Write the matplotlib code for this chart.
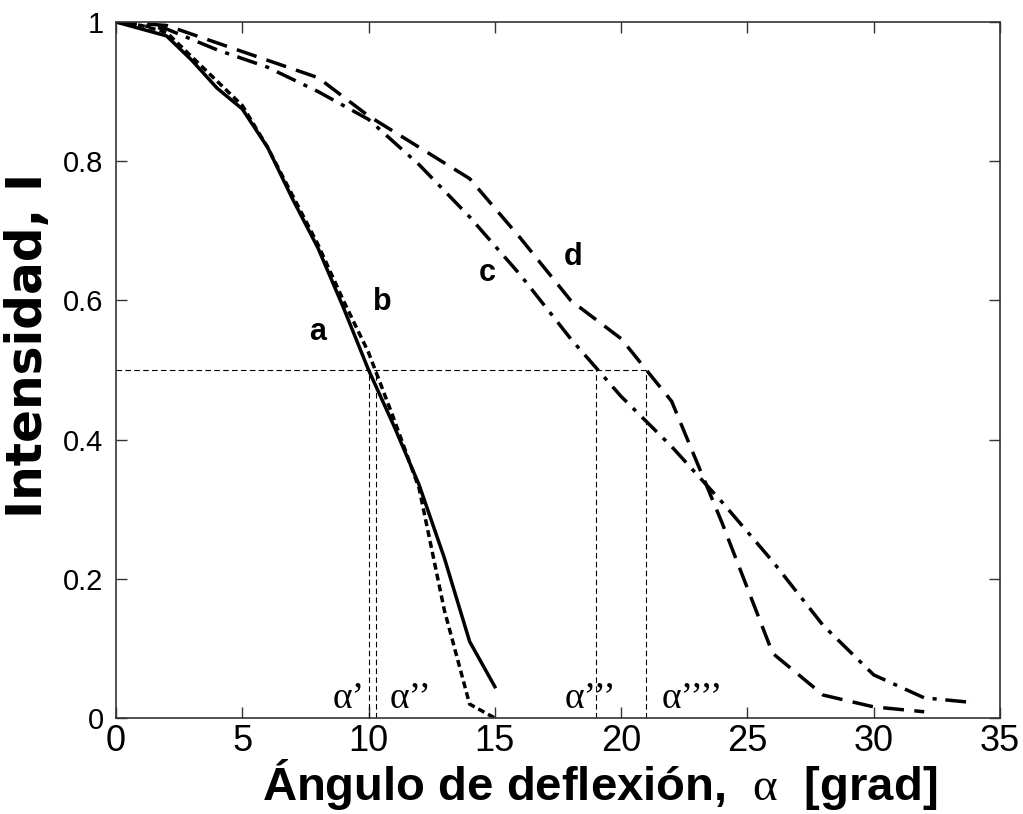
import matplotlib
matplotlib.use("Agg")
import matplotlib.pyplot as plt

plt.rcParams['font.family'] = ['Liberation Sans', 'DejaVu Sans']
plt.rcParams['mathtext.fontset'] = 'custom'
plt.rcParams['mathtext.rm'] = 'Liberation Serif'

# Deflection angle (deg) and normalised intensity for the four curves
angle_ab = [0, 1, 2, 3, 4, 5, 6, 7, 8, 9, 10, 11, 12, 13, 14, 15]
int_a = [1.0, 0.99, 0.98, 0.945, 0.905, 0.875, 0.82, 0.745, 0.675, 0.59,
         0.5, 0.42, 0.335, 0.23, 0.11, 0.045]
int_b = [1.0, 0.995, 0.985, 0.95, 0.915, 0.88, 0.82, 0.75, 0.68, 0.6,
         0.525, 0.43, 0.33, 0.155, 0.02, 0.0]

angle_c = [0, 2, 4, 6, 8, 10, 12, 14, 16, 18, 20, 22, 24, 26, 28, 30, 32, 34]
int_c = [1.0, 0.99, 0.96, 0.935, 0.9, 0.86, 0.795, 0.72, 0.637, 0.545,
         0.462, 0.39, 0.31, 0.225, 0.133, 0.062, 0.029, 0.022]

angle_d = [0, 2, 4, 6, 8, 10, 12, 14, 16, 18, 20, 22, 24, 26, 28, 30, 32]
int_d = [1.0, 0.995, 0.97, 0.945, 0.92, 0.865, 0.82, 0.775, 0.69, 0.6,
         0.545, 0.455, 0.28, 0.093, 0.033, 0.016, 0.009]

# Half-intensity angles alpha', alpha'', alpha''', alpha''''
half_level = 0.5
alpha_half = [10.0, 10.3, 19.0, 21.0]
alpha_names = ["α’", "α’’", "α’’’", "α’’’’"]
alpha_label_x = [9.22, 11.68, 18.8, 22.8]

curve_names = ["a", "b", "c", "d"]
curve_label_pos = [(8.0, 0.554), (10.53, 0.597), (14.69, 0.64), (18.09, 0.663)]

x_ticks = [0, 5, 10, 15, 20, 25, 30, 35]
y_ticks = [0, 0.2, 0.4, 0.6, 0.8, 1.0]
y_tick_labels = ["0", "0.2", "0.4", "0.6", "0.8", "1"]

fig = plt.figure(figsize=(10.23, 8.14), dpi=100)
ax = fig.add_axes([0.1134, 0.1179, 0.8641, 0.8551])

lw = 2.5
ax.plot(angle_ab, int_a, color='black', lw=lw, linestyle='-')
ax.plot(angle_ab, int_b, color='black', lw=lw, linestyle=(0, (2, 1.2)))
ax.plot(angle_c, int_c, color='black', lw=lw, linestyle=(0, (6, 2.5, 1.2, 2.5)))
ax.plot(angle_d, int_d, color='black', lw=lw, linestyle=(0, (6, 3)))

# Guide lines at half intensity
ref_style = dict(color='black', lw=0.8, linestyle=(0, (5, 3)))
ax.plot([0, max(alpha_half)], [half_level, half_level], **ref_style)
for xv in alpha_half:
    ax.plot([xv, xv], [0, half_level], **ref_style)

for name, xv in zip(alpha_names, alpha_label_x):
    ax.text(xv, 0.003, name, ha='center', va='bottom', fontsize=27,
            fontfamily=['Liberation Serif', 'DejaVu Serif'])

for name, (xv, yv) in zip(curve_names, curve_label_pos):
    ax.text(xv, yv, name, ha='center', va='center', fontsize=22,
            fontweight='bold')

ax.set_xlim(0, 35)
ax.set_ylim(0, 1)
ax.set_xticks(x_ticks)
ax.set_xticklabels([str(t) for t in x_ticks], fontsize=26)
ax.set_yticks(y_ticks)
ax.set_yticklabels(y_tick_labels, fontsize=21)
ax.tick_params(direction='in', length=8, width=1, top=True, right=True,
               colors='#333333', labelcolor='black')
ax.tick_params(axis='x', pad=4)
ax.tick_params(axis='y', pad=9)
for sp in ax.spines.values():
    sp.set_color('#333333')
    sp.set_linewidth(1.2)

ax.set_xlabel(r"Ángulo de deflexión,  $\mathrm{\alpha}$  [grad]", fontsize=34,
              fontweight='bold')
ax.xaxis.set_label_coords(0.5475, -0.0561)
ax.set_ylabel("Intensidad, I", fontsize=35, fontweight='bold',
              fontfamily=['DejaVu Sans'])
ax.yaxis.set_label_coords(-0.072, 0.536)

fig.savefig("out.png", dpi=100)
